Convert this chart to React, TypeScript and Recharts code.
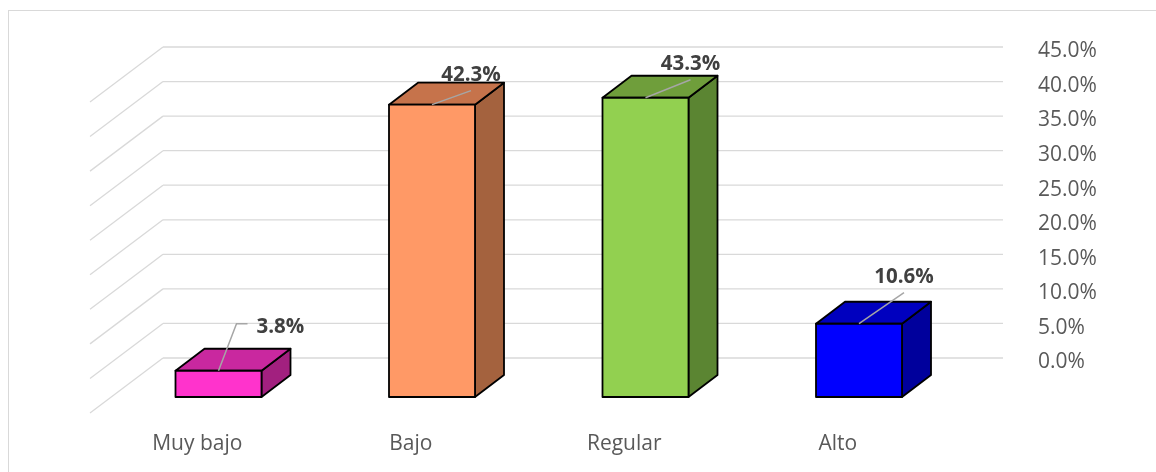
import { BarChart, Bar, XAxis, YAxis, CartesianGrid, LabelList } from "recharts";

const categories = ["Muy bajo", "Bajo", "Regular", "Alto"];
const percentages = [3.8, 42.3, 43.3, 10.6];
const yTicks = [0, 5, 10, 15, 20, 25, 30, 35, 40, 45];

const data = categories.map((name, i) => ({ name, value: percentages[i] }));

// face colours per bar: front, top, side
const frontColors = ["#FF33CC", "#FF9966", "#92D050", "#0000FF"];
const topColors = ["#C9289F", "#C6734B", "#6F9E3B", "#0000BF"];
const sideColors = ["#A2207F", "#A4623E", "#5B8532", "#00009C"];

// manual label placement (relative to front-top centre of each bar)
const labelNudges = [
  { dx: 38, dy: -45, side: true },
  { dx: 39, dy: -31, side: false },
  { dx: 45, dy: -35, side: false },
  { dx: 45, dy: -48, side: false },
];

const W = 1148;
const H = 456;
const FONT = "'Open Sans', sans-serif";

// 3D projection: bar front plane sits in front of the back wall
const FRONT_DX = -51.5;
const FRONT_DY = 39;
const DEPTH_DX = 29;
const DEPTH_DY = -22;
// side wall diagonal
const WALL_DX = -73;
const WALL_DY = 55;

const idxOf = (p: any) => {
  const i = categories.indexOf(p?.payload?.name ?? p?.name);
  return i >= 0 ? i : p.index ?? 0;
};

function Box3D(props: any) {
  const { x, y, width, height } = props;
  const i = idxOf(props);
  const fx = x + FRONT_DX;
  const fy = y + FRONT_DY;
  const w = width;
  const h = height;
  const top = `${fx},${fy} ${fx + DEPTH_DX},${fy + DEPTH_DY} ${fx + w + DEPTH_DX},${fy + DEPTH_DY} ${fx + w},${fy}`;
  const side = `${fx + w},${fy} ${fx + w + DEPTH_DX},${fy + DEPTH_DY} ${fx + w + DEPTH_DX},${fy + h + DEPTH_DY} ${fx + w},${fy + h}`;
  return (
    <g stroke="#000" strokeWidth={1.8} strokeLinejoin="round">
      <polygon points={side} fill={sideColors[i]} />
      <polygon points={top} fill={topColors[i]} />
      <rect x={fx} y={fy} width={w} height={h} fill={frontColors[i]} />
    </g>
  );
}

function ValueLabel(props: any) {
  const { x, y, width, value, index } = props;
  const n = labelNudges[index];
  const cx = x + FRONT_DX + width / 2;
  const cy = y + FRONT_DY;
  const lx = cx + n.dx;
  const ly = cy + n.dy;
  const txt = `${Number(value).toFixed(1)}%`;
  const textStyle = {
    fontFamily: FONT,
    fontSize: 20.5,
    fontWeight: 700,
    fill: "#404040",
  };
  if (n.side) {
    return (
      <g>
        <polyline
          points={`${cx},${cy} ${lx - 20},${ly - 2} ${lx - 9},${ly - 2}`}
          fill="none"
          stroke="#A6A6A6"
          strokeWidth={1.5}
        />
        <text x={lx} y={ly} dy="0.35em" textAnchor="start" style={textStyle}>
          {txt}
        </text>
      </g>
    );
  }
  return (
    <g>
      <line x1={cx} y1={cy} x2={lx} y2={ly + 17} stroke="#A6A6A6" strokeWidth={1.5} />
      <text x={lx} y={ly} dy="0.35em" textAnchor="middle" style={textStyle}>
        {txt}
      </text>
    </g>
  );
}

function WallLine(props: any) {
  const { x1, y1, x2, key } = props;
  return (
    <g key={key} stroke="#D9D9D9" strokeWidth={1.3} fill="none">
      <line x1={x1} y1={y1} x2={x2 - 14} y2={y1} />
      <line x1={x1} y1={y1} x2={x1 + WALL_DX} y2={y1 + WALL_DY} />
    </g>
  );
}

function CategoryTick(props: any) {
  const { x, y, payload } = props;
  return (
    <text
      x={x + FRONT_DX - 21}
      y={y + 85}
      dy="0.35em"
      textAnchor="middle"
      style={{ fontFamily: FONT, fontSize: 21, fill: "#595959" }}
    >
      {payload.value}
    </text>
  );
}

function PercentTick(props: any) {
  const { x, y, payload } = props;
  return (
    <text
      x={x}
      y={y + 3}
      dy="0.35em"
      textAnchor="start"
      style={{ fontFamily: FONT, fontSize: 21, fill: "#595959" }}
    >
      {`${Number(payload.value).toFixed(1)}%`}
    </text>
  );
}

export default function App() {
  return (
    <div style={{ position: "relative", width: W, height: H, background: "#fff" }}>
      <div
        style={{
          position: "fixed",
          top: 10,
          left: 8,
          width: 1400,
          height: 800,
          borderTop: "1px solid #D9D9D9",
          borderLeft: "1px solid #D9D9D9",
          pointerEvents: "none",
        }}
      />
      <BarChart
        width={W}
        height={H}
        data={data}
        margin={{ top: 39, right: 0, bottom: 0, left: 155 }}
      >
        <CartesianGrid vertical={false} horizontal={WallLine as any} />
        <XAxis
          dataKey="name"
          height={106}
          axisLine={false}
          tickLine={false}
          tickSize={0}
          tickMargin={0}
          interval={0}
          tick={<CategoryTick />}
        />
        <YAxis
          orientation="right"
          width={139}
          domain={[0, 45]}
          ticks={yTicks}
          axisLine={false}
          tickLine={false}
          tickSize={0}
          tickMargin={21}
          tick={<PercentTick />}
        />
        <Bar dataKey="value" barSize={86} shape={<Box3D />} isAnimationActive={false}>
          <LabelList dataKey="value" content={<ValueLabel />} />
        </Bar>
      </BarChart>
    </div>
  );
}
